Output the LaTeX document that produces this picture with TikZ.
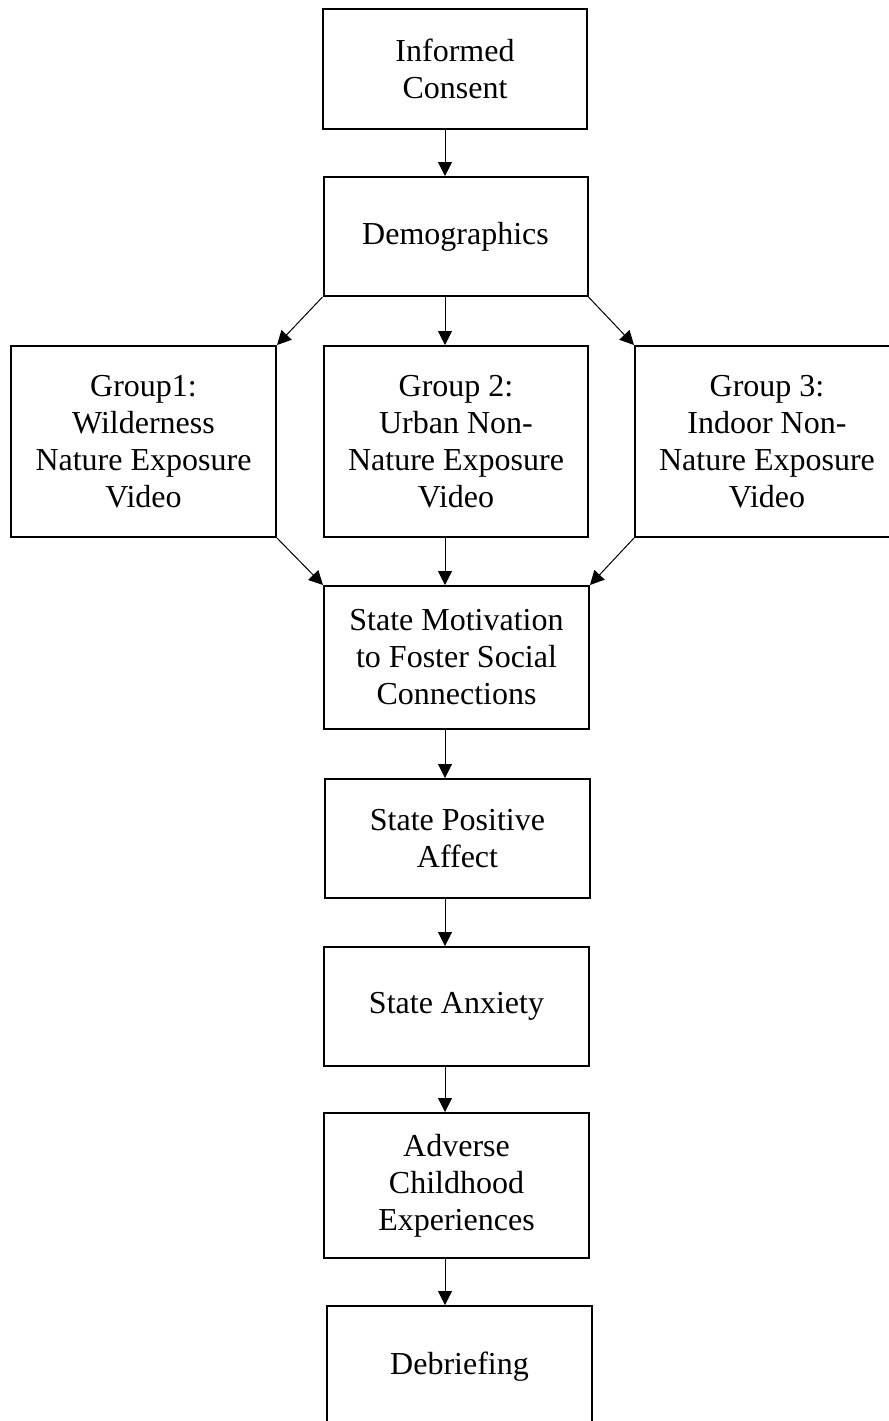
\documentclass[tikz,border=0pt]{standalone}
\usepackage{fontspec}
\setmainfont{Liberation Serif}
\usetikzlibrary{arrows.meta}
\begin{document}
\begin{tikzpicture}[x=0.75pt,y=-0.75pt,
  box/.style={draw,line width=1.5pt,inner sep=0pt,align=center,
    font=\fontsize{24}{27.75}\selectfont,minimum width=198pt},
  arr/.style={line width=0.75pt,-{Triangle[length=10.5pt,width=10.5pt]}}]
\useasboundingbox (0,0) rectangle (889,1421);
\coordinate (axis) at (445,0);
\node[box,minimum height=90pt] (consent) at (455,69) {Informed\\Consent};
\node[box,minimum height=89.25pt] (demo) at (455.5,236.5) {Demographics};
\node[box,minimum height=143.25pt,minimum width=198.75pt] (g1) at (143.5,441.5) {Group1:\\Wilderness\\Nature Exposure\\Video};
\node[box,minimum height=143.25pt] (g2) at (456,441.5) {Group 2:\\Urban Non-\\Nature Exposure\\Video};
\node[box,minimum height=143.25pt] (g3) at (767,441.5) {Group 3:\\Indoor Non-\\Nature Exposure\\Video};
\node[box,minimum height=107.25pt,minimum width=198.75pt] (motiv) at (456.5,657.5) {State Motivation\\to Foster Social\\Connections};
\node[box,minimum height=89.25pt,minimum width=198.75pt] (pos) at (457.5,838.5) {State Positive\\Affect};
\node[box,minimum height=89.25pt,minimum width=198.75pt] (anx) at (456.5,1006.5) {State Anxiety};
\node[box,minimum height=108.75pt,minimum width=198.75pt] (ace) at (456.5,1185.5) {Adverse\\Childhood\\Experiences};
\node[box,minimum height=91.5pt,minimum width=198.75pt] (deb) at (459.5,1367) {Debriefing};
\draw[arr] (consent.south -| axis) -- (demo.north -| axis);
\draw[arr] (demo.south -| axis) -- (g2.north -| axis);
\draw[arr] (demo.south west) -- (g1.north east);
\draw[arr] (demo.south east) -- (g3.north west);
\draw[arr] (g2.south -| axis) -- (motiv.north -| axis);
\draw[arr] (g1.south east) -- (motiv.north west);
\draw[arr] (g3.south west) -- (motiv.north east);
\draw[arr] (motiv.south -| axis) -- (pos.north -| axis);
\draw[arr] (pos.south -| axis) -- (anx.north -| axis);
\draw[arr] (anx.south -| axis) -- (ace.north -| axis);
\draw[arr] (ace.south -| axis) -- (deb.north -| axis);
\end{tikzpicture}
\end{document}
